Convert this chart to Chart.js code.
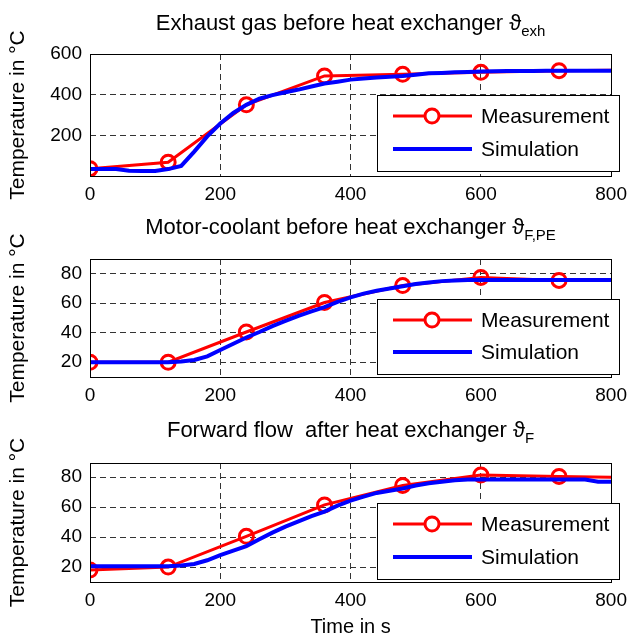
<!DOCTYPE html>
<html><head><meta charset="utf-8">
<script src="https://cdn.jsdelivr.net/npm/chart.js@4.4.1/dist/chart.umd.min.js"></script>
<style>
html,body{margin:0;padding:0;background:#fff;}
#wrap{position:relative;width:634px;height:641px;overflow:hidden;background:#fff;}
canvas{position:absolute;left:0;}
</style></head><body>
<div id="wrap">
<canvas id="c1" width="634" height="210" style="top:0px"></canvas>
<canvas id="c2" width="634" height="205" style="top:210px"></canvas>
<canvas id="c3" width="634" height="226" style="top:415px"></canvas>
</div>
<script>
// ---- data ----
const seriesNames = ['Measurement', 'Simulation'];
const xTicks = [0, 200, 400, 600, 800];
const yTicksExh = [200, 400, 600];
const yTicksCool = [20, 40, 60, 80];

const timeMeas = [0, 120, 240, 360, 480, 600, 720, 800];
const exhMeas  = [36, 68, 350, 492, 500, 510, 518, 520];
const coolMeas = [20, 20, 40.5, 60.5, 72, 77.5, 75.5, 75.5];
const fwdMeas  = [18, 20, 40.5, 61.5, 74.5, 81.5, 80.5, 80];

const timeSim = [0,20,40,60,80,100,120,140,160,180,200,220,240,260,280,300,320,340,360,380,400,420,440,460,480,500,520,540,560,580,600,620,640,660,680,700,720,740,760,780,800];
const exhSim  = [34,34,34,26,24,25,34,50,120,195,258,310,350,380,398,412,425,440,455,464,474,479,484,488,492,498,505,507,510,512,514,515,516,517,517,518,518,518,518,518,518];
const coolSim = [20,20,20,20,20,20,20,20.5,21.5,24,28.3,32.5,36.8,40.5,44.5,48,51.5,54.5,57.4,61,64,66.5,68.5,70,71.5,73,74,75,75.5,75.7,75.8,75.8,75.8,75.8,75.8,75.8,75.8,75.8,75.8,75.8,75.8];
const fwdSim  = [20.5,20.5,20.5,20.5,20.5,20.5,20.5,21,22,24.5,28,31,34,38.5,43,47,50.5,54,57,61,64.4,67,69.5,71,72.5,74.5,76,77,78,78.5,78.5,78.5,78.5,78.5,78.5,78.5,78.5,78.5,78.5,77,77];

const titles = [
  {main: 'Exhaust gas before heat exchanger', sub: 'exh'},
  {main: 'Motor-coolant before heat exchanger', sub: 'F,PE'},
  {main: 'Forward flow  after heat exchanger', sub: 'F'}
];
const yLabel = 'Temperature in \u00B0C';
const xLabel = 'Time in s';

// ---- drawing ----
const FONT = '"Liberation Sans", Arial, sans-serif';

const decorPlugin = {
  id: 'decor',
  afterDraw(chart) {
    const o = chart.options.plugins.decor;
    const a = chart.chartArea;
    const ctx = chart.ctx;
    ctx.save();
    // axes box
    ctx.strokeStyle = '#000';
    ctx.lineWidth = 1;
    ctx.setLineDash([]);
    ctx.strokeRect(Math.round(a.left) + 0.5, Math.round(a.top) + 0.5, Math.round(a.right - a.left), Math.round(a.bottom - a.top));
    // legend
    const lx = a.left + 287, rx = a.right + 8;
    const ty = a.top + o.legTop, by = a.bottom - o.legBottom;
    ctx.fillStyle = '#fff';
    ctx.fillRect(lx, ty, rx - lx, by - ty);
    ctx.strokeRect(Math.round(lx) + 0.5, Math.round(ty) + 0.5, Math.round(rx - lx), Math.round(by - ty));
    const ds = chart.data.datasets;
    const rows = [ty + 21, by - 22];
    ds.forEach((d, i) => {
      const y = rows[i];
      ctx.strokeStyle = d.borderColor;
      ctx.lineWidth = d.borderWidth;
      ctx.beginPath();
      ctx.moveTo(lx + 16, y); ctx.lineTo(lx + 95, y);
      ctx.stroke();
      if (i === 0) {
        ctx.lineWidth = 3;
        ctx.fillStyle = '#fff';
        ctx.beginPath();
        ctx.arc(lx + 55, y, 7, 0, Math.PI * 2);
        ctx.fill(); ctx.stroke();
      }
      ctx.fillStyle = '#000';
      ctx.font = '21px ' + FONT;
      ctx.textBaseline = 'middle';
      ctx.textAlign = 'left';
      ctx.fillText(d.label, lx + 104, y + 1);
    });
    // title with subscript
    const cx = (a.left + a.right) / 2;
    ctx.font = '22px ' + FONT;
    const main = o.main + ' ';
    const w1 = ctx.measureText(main).width;
    const wT = ctx.measureText('\u03D1').width;
    ctx.font = '15px ' + FONT;
    const wS = ctx.measureText(o.sub).width;
    let x = cx - (w1 + wT + wS) / 2;
    ctx.fillStyle = '#000';
    ctx.textBaseline = 'alphabetic';
    ctx.font = '22px ' + FONT;
    ctx.fillText(main, x, o.titleY + 8);
    x += w1;
    ctx.fillText('\u03D1', x, o.titleY + 8);
    x += wT;
    ctx.font = '15px ' + FONT;
    ctx.fillText(o.sub, x, o.titleY + 14);
    ctx.restore();
  }
};

function makeChart(id, measY, simY, yMin, yMax, yTicks, t, areaTop, xAxisH, titleY, showX, legTop, legBottom) {
  const meas = timeMeas.map((x, i) => ({x, y: measY[i]}));
  const sim = timeSim.map((x, i) => ({x, y: simY[i]}));
  return new Chart(document.getElementById(id), {
    type: 'line',
    data: {
      datasets: [
        {label: seriesNames[0], data: meas, borderColor: '#ff0000', borderWidth: 3,
         pointRadius: timeMeas.map(x => x === 800 ? 0 : 7), pointBorderWidth: 3,
         pointBorderColor: '#ff0000', pointBackgroundColor: 'rgba(0,0,0,0)', order: 2, tension: 0},
        {label: seriesNames[1], data: sim, borderColor: '#0000ff', borderWidth: 4,
         pointRadius: 0, order: 1, tension: 0}
      ]
    },
    options: {
      responsive: false, animation: false, devicePixelRatio: 1,
      layout: {padding: {left: 0, right: 22, top: areaTop, bottom: 0}},
      plugins: {
        legend: {display: false}, tooltip: {enabled: false}, title: {display: false},
        decor: {main: t.main, sub: t.sub, titleY, legTop, legBottom}
      },
      scales: {
        x: {
          type: 'linear', min: 0, max: 800,
          afterBuildTicks: s => { s.ticks = xTicks.map(v => ({value: v})); },
          afterFit: s => { s.height = xAxisH; },
          grid: {color: '#333', lineWidth: 1, drawTicks: false},
          border: {display: false, dash: [6, 4]},
          ticks: {color: '#000', font: {family: FONT, size: 19}, padding: 7, maxRotation: 0},
          title: {display: showX, text: xLabel, color: '#000', font: {family: FONT, size: 20}, padding: {top: 0, bottom: 2}}
        },
        y: {
          min: yMin, max: yMax,
          afterBuildTicks: s => { s.ticks = yTicks.map(v => ({value: v})); },
          afterFit: s => { s.width = 90; },
          grid: {color: '#333', lineWidth: 1, drawTicks: false},
          border: {display: false, dash: [6, 4]},
          ticks: {color: '#000', font: {family: FONT, size: 19}, padding: 8},
          title: {display: true, text: yLabel, color: '#000', font: {family: FONT, size: 21}, padding: {top: 6, bottom: 0}}
        }
      }
    },
    plugins: [decorPlugin]
  });
}

makeChart('c1', exhMeas, exhSim, 0, 600, yTicksExh, titles[0], 54, 34, 22, false, 41, 5);
makeChart('c2', coolMeas, coolSim, 10, 90, yTicksCool, titles[1], 49, 38, 16, false, 40, 3);
makeChart('c3', fwdMeas, fwdSim, 10, 89.5, yTicksCool, titles[2], 48, 59, 14, true, 40, 3);
</script>
</body></html>
